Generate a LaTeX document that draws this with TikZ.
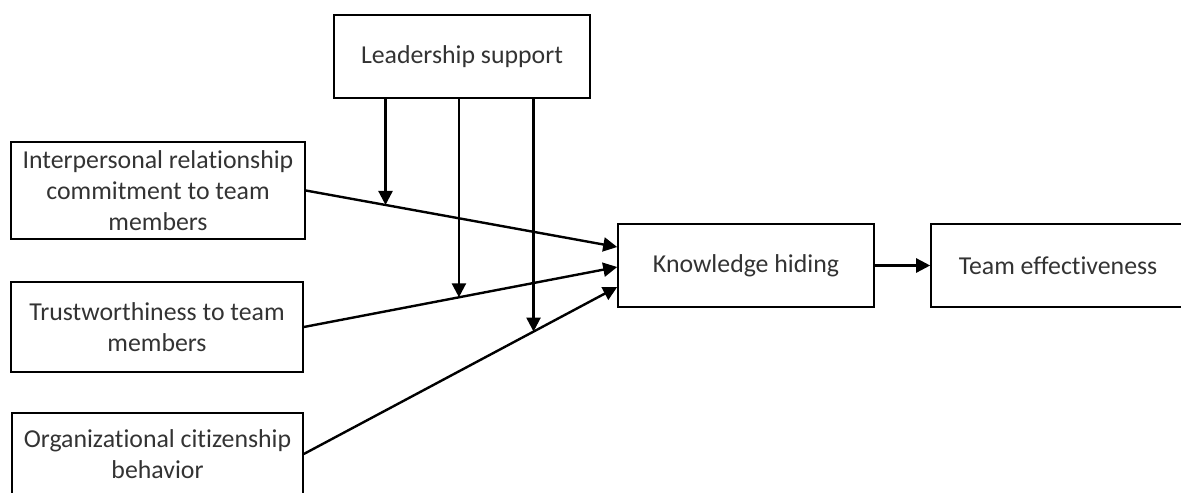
\documentclass[tikz,border=0pt]{standalone}
\usepackage{fontspec}
\setmainfont{Carlito}[Ligatures=NoCommon]
\usetikzlibrary{arrows.meta}

\begin{document}
\begin{tikzpicture}[x=0.5pt, y=-0.5pt,
    box/.style={draw=black, line width=0.8pt, text=black!80, font=\fontsize{12.9pt}{15.6pt}\selectfont,
        align=center, inner sep=0pt},
    link/.style={line width=1.2pt, -{Triangle[length=7pt, width=7pt]}}]
    \useasboundingbox (0,0) rectangle (1181,492);
    % boxes
    \node[box, minimum width=128pt, minimum height=41.5pt] (ls) at (462,56.5) {Leadership support};
    \node[box, minimum width=147pt, minimum height=48.5pt] (b1) at (158,190.5) {Interpersonal relationship\\commitment to team\\members};
    \node[box, minimum width=146pt, minimum height=45pt] (b2) at (157,327) {Trustworthiness to team\\members};
    \node[box, minimum width=145.5pt, minimum height=41pt] (b3) at (157.5,454) {Organizational citizenship\\behavior};
    \node[box, minimum width=128pt, minimum height=41.5pt] (kh) at (746,265.5) {Knowledge hiding};
    \node[box, minimum width=127pt, minimum height=41.5pt] (te) at (1058,265.5) {Team effectiveness};

    % arrows
    \draw[link] (b1.east) -- coordinate[pos=0.256] (m1) ([yshift=9.25pt]kh.west);
    \draw[link] (b2.east) -- coordinate[pos=0.495] (m2) ([yshift=-0.75pt]kh.west);
    \draw[link] (b3.east) -- coordinate[pos=0.733] (m3) ([yshift=-10.75pt]kh.west);
    \draw[link] (kh) -- (te);

    % moderation
    \draw[link] (ls.south -| m1) -- (m1);
    \draw[link] (ls.south -| m2) -- (m2);
    \draw[link] (ls.south -| m3) -- (m3);
\end{tikzpicture}
\end{document}
